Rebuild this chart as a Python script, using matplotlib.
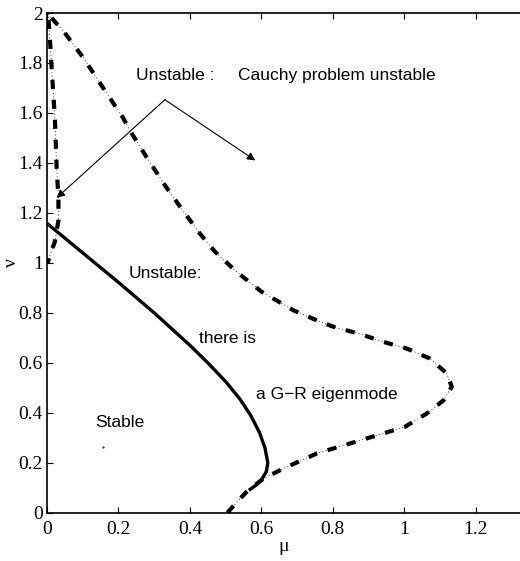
import matplotlib
matplotlib.use('Agg')
import matplotlib.pyplot as plt

plt.rcParams['font.family'] = 'serif'
plt.rcParams['font.serif'] = ['Liberation Serif', 'DejaVu Serif']

# stability boundary (solid)
gr_mu = [0.0, 0.1, 0.2, 0.3, 0.4, 0.45, 0.5, 0.54, 0.57, 0.595,
         0.61, 0.618, 0.614, 0.60, 0.585, 0.565]
gr_nu = [1.158, 1.04, 0.922, 0.80, 0.67, 0.60, 0.525, 0.455, 0.39, 0.32,
         0.26, 0.20, 0.165, 0.13, 0.11, 0.09]

# Cauchy problem boundary (dash-dot)
cp_mu = [0.505, 0.53, 0.559, 0.606, 0.662, 0.755, 0.848, 0.941, 1.002, 1.063,
         1.11, 1.133, 1.119, 1.072, 1.007, 0.941, 0.877, 0.80, 0.755, 0.69,
         0.60, 0.53, 0.47, 0.428, 0.38, 0.335, 0.28, 0.232, 0.213, 0.148,
         0.102, 0.05, 0.007, 0.003, 0.008, 0.013, 0.022, 0.027, 0.032, 0.032,
         0.022, 0.008, 0.002]
cp_nu = [0.0, 0.04, 0.084, 0.137, 0.177, 0.237, 0.277, 0.317, 0.344, 0.397,
         0.45, 0.504, 0.557, 0.617, 0.657, 0.684, 0.715, 0.745, 0.77, 0.81,
         0.885, 0.965, 1.045, 1.117, 1.21, 1.30, 1.42, 1.53, 1.58, 1.72,
         1.82, 1.92, 1.99, 1.995, 1.9, 1.78, 1.58, 1.38, 1.26, 1.17,
         1.085, 1.03, 1.0]

stray_mu = [0.158]
stray_nu = [0.264]

sans = 'Liberation Sans'

fig = plt.figure(figsize=(5.2, 5.61), dpi=100)
ax = fig.add_axes([0.0904, 0.0861, 0.9096, 0.8907])

ax.plot(gr_mu, gr_nu, color='black', lw=2.4, solid_capstyle='butt',
        solid_joinstyle='round')
ax.plot(cp_mu, cp_nu, color='black', lw=0.5, linestyle=(0, (1.5, 3.5)))
ax.plot(cp_mu, cp_nu, color='black', lw=3.0, linestyle=(0, (2.2, 2.6)))
ax.plot(stray_mu, stray_nu, 'k.', ms=1)

txt = dict(family=sans, fontsize=12.5, va='center', ha='left')
ax.text(0.249, 1.75, 'Unstable :', **txt)
ax.text(0.536, 1.75, 'Cauchy problem unstable', **txt)
ax.text(0.228, 0.958, 'Unstable:', **txt)
ax.text(0.425, 0.697, 'there is', **txt)
ax.text(0.584, 0.475, 'a G\u2212R eigenmode', **txt)
ax.text(0.136, 0.36, 'Stable', **txt)

arr = dict(arrowstyle='-|>', color='black', lw=0.8, mutation_scale=12,
           shrinkA=0, shrinkB=0)
ax.annotate('', xy=(0.583, 1.41), xytext=(0.33, 1.653), arrowprops=arr)
ax.annotate('', xy=(0.027, 1.26), xytext=(0.33, 1.653), arrowprops=arr)

ax.set_xlim(0, 1.324)
ax.set_ylim(0, 2)
ax.set_xticks([0, 0.2, 0.4, 0.6, 0.8, 1, 1.2])
ax.set_xticklabels(['0', '0.2', '0.4', '0.6', '0.8', '1', '1.2'])
ax.set_yticks([0, 0.2, 0.4, 0.6, 0.8, 1, 1.2, 1.4, 1.6, 1.8, 2])
ax.set_yticklabels(['0', '0.2', '0.4', '0.6', '0.8', '1', '1.2', '1.4',
                    '1.6', '1.8', '2'])
ax.tick_params(direction='in', length=4, width=0.8, top=True,
               labelsize=14, pad=3)
ax.tick_params(axis='x', pad=6)
ax.spines['right'].set_visible(False)
for s in ['left', 'bottom', 'top']:
    ax.spines[s].set_linewidth(1.2)

ax.set_xlabel('\u03bc', fontsize=14, labelpad=0)
ax.set_ylabel('\u03bd', fontsize=14)
ax.yaxis.set_label_coords(-0.058, 0.5)

fig.savefig('out.png', dpi=100)
